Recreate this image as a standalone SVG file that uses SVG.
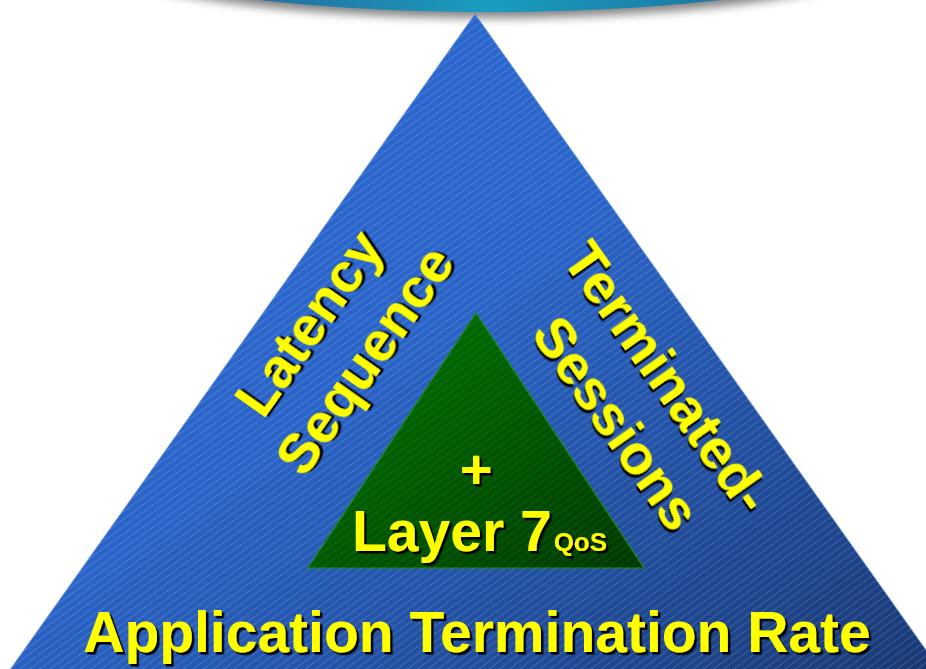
<svg xmlns="http://www.w3.org/2000/svg" width="926" height="669" viewBox="0 0 926 669">
  <defs>
    <linearGradient id="blueGrad" x1="0" y1="0" x2="1" y2="1">
      <stop offset="0" stop-color="#2d6ad4"/>
      <stop offset="0.45" stop-color="#2a64c8"/>
      <stop offset="1" stop-color="#17346c"/>
    </linearGradient>
    <linearGradient id="greenGrad" x1="0" y1="0" x2="1" y2="1">
      <stop offset="0" stop-color="#007a00"/>
      <stop offset="1" stop-color="#003800"/>
    </linearGradient>
    <linearGradient id="topGrad" x1="0" y1="0" x2="1" y2="0">
      <stop offset="0" stop-color="#2a4f86"/>
      <stop offset="0.5" stop-color="#1a9cc0"/>
      <stop offset="1" stop-color="#1c5d8c"/>
    </linearGradient>
    <pattern id="hatch" patternUnits="userSpaceOnUse" width="6" height="6" patternTransform="rotate(-36)">
      <line x1="0" y1="0.5" x2="6" y2="0.5" stroke="#ffffff" stroke-opacity="0.28" stroke-width="0.55"/>
    </pattern>
    <filter id="blur" x="-10%" y="-50%" width="120%" height="200%">
      <feGaussianBlur stdDeviation="5"/>
    </filter>
    <filter id="shadow" x="-10%" y="-10%" width="120%" height="130%">
      <feDropShadow dx="2.5" dy="2.5" stdDeviation="0.3" flood-color="#000000" flood-opacity="1"/>
    </filter>
  </defs>
  <style>
    .lbl { font-family: "Liberation Sans", Arial, sans-serif; font-weight: bold; fill: #ffff00; filter: url(#shadow); }
  </style>

  <g id="top-band">
    <ellipse cx="490" cy="-50" rx="415" ry="68" fill="#6f6f6f" filter="url(#blur)" opacity="0.85"/>
    <ellipse cx="490" cy="-58" rx="412" ry="70" fill="url(#topGrad)"/>
  </g>

  <g id="outer-triangle">
    <polygon points="475,14 -20,712 970,712" fill="url(#blueGrad)" stroke="#7aa0e0" stroke-width="1"/>
    <polygon points="475,14 -20,712 970,712" fill="url(#hatch)"/>
  </g>

  <g id="inner-triangle">
    <polygon points="476,313 308,568 644,568" fill="url(#greenGrad)" stroke="#1c8a1c" stroke-width="1.2"/>
    <polygon points="476,313 308,568 644,568" fill="url(#hatch)" opacity="0.5"/>
  </g>

  <g id="label-latency">
    <text class="lbl" font-size="56" text-anchor="middle" transform="translate(324,334) rotate(-54.8)">Latency</text>
    <text class="lbl" font-size="56" text-anchor="middle" transform="translate(380,371) rotate(-54.8)">Sequence</text>
  </g>

  <g id="label-terminated">
    <text class="lbl" font-size="56" text-anchor="middle" transform="translate(652,388) rotate(54.8)">Terminated-</text>
    <text class="lbl" font-size="56" text-anchor="middle" transform="translate(601,434) rotate(54.8)">Sessions</text>
  </g>

  <g id="label-layer7">
    <text class="lbl" font-size="56" text-anchor="middle" x="476" y="488">+</text>
    <text class="lbl" x="352" y="551"><tspan font-size="57">Layer 7</tspan><tspan font-size="26" dx="2">QoS</tspan></text>
  </g>

  <g id="label-base">
    <text class="lbl" font-size="57" text-anchor="middle" x="477" y="652">Application Termination Rate</text>
  </g>
</svg>
